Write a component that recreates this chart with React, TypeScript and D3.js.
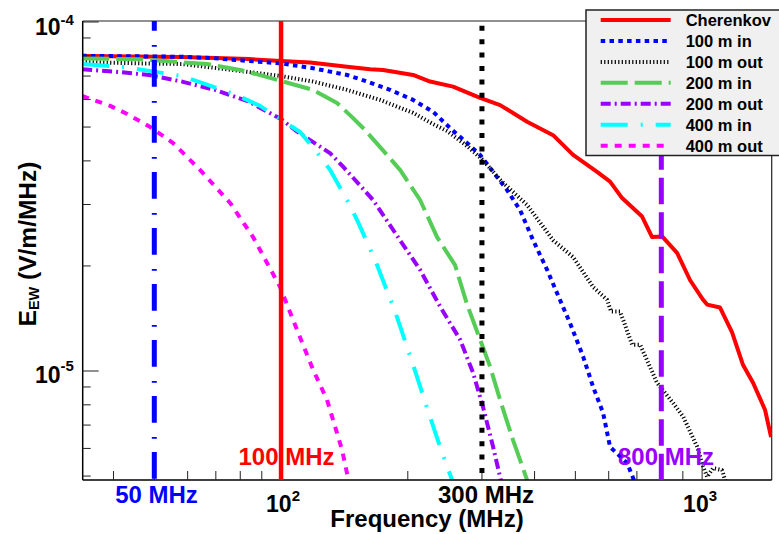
import React from 'react';
import * as d3 from 'd3';

const W = 779;
const H = 534;

// Frequency (MHz), E_EW (V/m/MHz)
const cherenkov: [number, number][] = [
  [34, 7.99e-5], [58.2, 7.94e-5], [83.9, 7.83e-5], [100, 7.73e-5], [117.2, 7.66e-5],
  [143.5, 7.44e-5], [162.7, 7.32e-5], [174.7, 7.29e-5], [205.9, 7.05e-5], [225.9, 6.75e-5],
  [256.2, 6.53e-5], [297, 6.06e-5], [331.3, 5.78e-5], [384, 5.18e-5], [442.7, 4.74e-5],
  [493.9, 4.16e-5], [563.1, 3.72e-5], [604.5, 3.49e-5], [645.7, 3.13e-5], [720.2, 2.77e-5],
  [760.6, 2.42e-5], [803.5, 2.43e-5], [872, 2.18e-5], [936.5, 1.82e-5], [1005.5, 1.6e-5],
  [1027.8, 1.55e-5], [1103, 1.52e-5], [1178, 1.29e-5], [1251, 1.04e-5], [1322, 0.924e-5],
  [1411, 0.773e-5], [1458, 0.647e-5],
];
const in100: [number, number][] = [
  [33.7, 8.0e-5], [58.2, 7.95e-5], [69.7, 7.87e-5], [83.9, 7.73e-5], [100, 7.61e-5],
  [119.1, 7.37e-5], [143.5, 7.05e-5], [160.1, 6.75e-5], [181.5, 6.39e-5], [205.9, 5.98e-5],
  [229.6, 5.53e-5], [252, 4.97e-5], [276.6, 4.5e-5], [297, 4.16e-5], [344.2, 3.3e-5],
  [369.6, 2.89e-5], [396.8, 2.37e-5], [428.4, 1.95e-5], [452.5, 1.67e-5], [485.8, 1.37e-5],
  [521.7, 1.1e-5], [551, 0.9e-5], [581.9, 0.758e-5], [604.5, 0.606e-5], [663.5, 0.545e-5],
  [685.6, 0.494e-5], [712.4, 0.441e-5],
];
const out100: [number, number][] = [
  [33.7, 7.68e-5], [46.75, 7.61e-5], [58.2, 7.58e-5], [76.5, 7.29e-5], [100, 7.0e-5],
  [119.1, 6.75e-5], [143.5, 6.39e-5], [171.9, 5.98e-5], [205.9, 5.49e-5], [229.6, 5.1e-5],
  [248, 4.87e-5], [276.6, 4.41e-5], [301.8, 4.02e-5], [331.3, 3.53e-5], [384, 2.99e-5],
  [442.7, 2.37e-5], [493.9, 2.12e-5], [551, 1.74e-5], [594.9, 1.6e-5], [607.8, 1.48e-5],
  [638.6, 1.48e-5], [681.9, 1.19e-5], [712.4, 1.19e-5], [781.8, 0.924e-5], [853.2, 0.81e-5],
  [901.5, 0.74e-5], [973, 0.607e-5], [1005.5, 0.532e-5], [1027.8, 0.497e-5], [1062, 0.527e-5],
  [1115, 0.52e-5], [1134, 0.487e-5], [1153, 0.45e-5],
];
const in200: [number, number][] = [
  [33.7, 7.86e-5], [46.0, 7.82e-5], [55.1, 7.7e-5], [66.7, 7.58e-5], [79.9, 7.29e-5],
  [90.1, 7.02e-5], [100, 6.78e-5], [119.1, 6.39e-5], [135.8, 5.86e-5], [145.8, 5.41e-5],
  [156.6, 4.97e-5], [171.9, 4.38e-5], [191.7, 3.77e-5], [213.9, 3.09e-5], [234.7, 2.42e-5],
  [259, 2.01e-5], [276.6, 1.55e-5], [297, 1.23e-5], [313.6, 1.03e-5], [331.3, 0.826e-5],
  [355.6, 0.634e-5], [384, 0.487e-5], [392.5, 0.45e-5],
];
const out200: [number, number][] = [
  [33.7, 7.32e-5], [40.3, 7.21e-5], [48.6, 7.05e-5], [58.2, 6.75e-5], [69.7, 6.39e-5],
  [83.9, 5.91e-5], [100, 5.27e-5], [109.2, 4.85e-5], [130.7, 4.21e-5], [140.4, 3.85e-5],
  [165.4, 3.09e-5], [191.7, 2.37e-5], [213.9, 1.95e-5], [238.6, 1.53e-5], [266.2, 1.23e-5],
  [285.8, 0.988e-5], [301.8, 0.788e-5], [318.9, 0.606e-5], [331.3, 0.497e-5], [336.8, 0.456e-5],
];
const in400: [number, number][] = [
  [33.7, 7.58e-5], [42.6, 7.43e-5], [58.2, 7.0e-5], [77.7, 6.2e-5], [89.1, 5.75e-5],
  [97.8, 5.34e-5], [110.9, 4.84e-5], [119.1, 4.38e-5], [130.7, 3.77e-5], [143.5, 3.09e-5],
  [151.5, 2.71e-5], [167.2, 2.08e-5], [186.6, 1.48e-5], [205.9, 1.04e-5], [227.1, 0.724e-5],
  [238.6, 0.606e-5], [254.8, 0.487e-5], [259, 0.456e-5],
];
const out400: [number, number][] = [
  [33.7, 6.14e-5], [39.3, 5.75e-5], [43.1, 5.45e-5], [48.9, 5.0e-5], [55.4, 4.5e-5],
  [64.2, 3.77e-5], [75.7, 3.03e-5], [85.8, 2.42e-5], [99.5, 1.74e-5], [109.2, 1.31e-5],
  [119.1, 1.01e-5], [128.6, 0.826e-5], [135.8, 0.664e-5], [139.6, 0.594e-5], [144.2, 0.494e-5],
  [145.8, 0.456e-5],
];

const seriesNames = ['Cherenkov', '100 m in', '100 m out', '200 m in', '200 m out', '400 m in', '400 m out'];
const seriesData = [cherenkov, in100, out100, in200, out200, in400, out400];

const markerFreqs = [50, 100, 300, 800];
const markerLabels = ['50 MHz', '100 MHz', '300 MHz', '800 MHz'];

const xMajorTicks = [100, 1000];
const xMinorTicks = [40, 50, 60, 70, 80, 90, 200, 300, 400, 500, 600, 700, 800, 900];
const yMajorTicks = [1e-5, 1e-4];
const yMinorTicks = [5e-6, 6e-6, 7e-6, 8e-6, 9e-6, 2e-5, 3e-5, 4e-5, 5e-5, 6e-5, 7e-5, 8e-5, 9e-5];

const seriesStyles = [
  { color: '#ff0000', width: 4, dash: '' },
  { color: '#0000ff', width: 4, dash: '4.5 4.3' },
  { color: '#000000', width: 4, dash: '1.2 2.3' },
  { color: '#55cc55', width: 4, dash: '27 7' },
  { color: '#9900ff', width: 4, dash: '10 4 2 4' },
  { color: '#00ffff', width: 4, dash: '27 13 2 13' },
  { color: '#ff00ff', width: 4, dash: '7 7' },
];

const markerStyles = [
  { color: '#0000ff', width: 5, dash: '26.7 14.3 1.7 13.3', offset: 17, labelX: 156.5, labelY: 503 },
  { color: '#ff0000', width: 4.5, dash: '', offset: 0, labelX: 286.5, labelY: 465 },
  { color: '#000000', width: 5, dash: '5 8.4', offset: 8.6, labelX: 486, labelY: 503 },
  { color: '#9900ff', width: 5, dash: '26.5 8', offset: 15.7, labelX: 666, labelY: 465 },
];

const FONT = '"Liberation Sans", Arial, Helvetica, sans-serif';

const L = 82.7, R = 771.7, T = 21, B = 480;

export default function App() {
  const x = d3.scaleLog().domain([33.8, 1463]).range([L, R]);
  const y = d3.scaleLog().domain([4.872e-6, 1.0066e-4]).range([B, T]);
  const line = d3.line<[number, number]>().x(d => x(d[0])).y(d => y(d[1]));

  const legX0 = 600.7, legX1 = 670.7, legTextX = 685.7, legY0 = 20, legDy = 20.95;

  return (
    <svg width={W} height={H} style={{ position: 'absolute', left: 0, top: 0, background: '#fff' }}
      fontFamily={FONT} fontWeight="bold">
      <defs>
        <clipPath id="plotClip">
          <rect x={L} y={T} width={R - L} height={B - T} />
        </clipPath>
      </defs>
      <rect x={0} y={0} width={W} height={H} fill="#fff" />

      {/* frame */}
      <line x1={L} x2={R} y1={T} y2={T} stroke="#222" strokeWidth={1.2} />
      <line x1={R} x2={R} y1={T} y2={B} stroke="#222" strokeWidth={1.2} />

      {/* curves */}
      <g clipPath="url(#plotClip)">
        {seriesData.map((d, i) => (
          <path key={i} d={line(d) || ''} fill="none" stroke={seriesStyles[i].color}
            strokeWidth={seriesStyles[i].width} strokeDasharray={seriesStyles[i].dash || undefined}
            strokeLinejoin="round" />
        ))}
      </g>

      {/* axes */}
      <line x1={L} x2={L} y1={T} y2={B} stroke="#000" strokeWidth={1.5} />
      <line x1={L} x2={R} y1={B} y2={B} stroke="#000" strokeWidth={1.5} />
      {yMajorTicks.map(t => (
        <line key={'ym' + t} x1={L} x2={L + 16} y1={y(t)} y2={y(t)} stroke="#222" strokeWidth={1} />
      ))}
      {yMinorTicks.map(t => (
        <line key={'yn' + t} x1={L} x2={L + 8} y1={y(t)} y2={y(t)} stroke="#222" strokeWidth={1} />
      ))}
      {xMajorTicks.map(t => (
        <line key={'xm' + t} x1={x(t)} x2={x(t)} y1={B} y2={B - 18} stroke="#222" strokeWidth={1} />
      ))}
      {xMinorTicks.map(t => (
        <line key={'xn' + t} x1={x(t)} x2={x(t)} y1={B} y2={B - 9} stroke="#222" strokeWidth={1} />
      ))}

      {/* vertical frequency markers */}
      {markerFreqs.map((f, i) => (
        <line key={'mk' + f} x1={x(f)} x2={x(f)} y1={T} y2={B} stroke={markerStyles[i].color}
          strokeWidth={markerStyles[i].width} strokeDasharray={markerStyles[i].dash || undefined}
          strokeDashoffset={markerStyles[i].offset} />
      ))}
      {markerFreqs.map((f, i) => (
        <text key={'ml' + f} x={markerStyles[i].labelX} y={markerStyles[i].labelY} fontSize={24}
          textAnchor="middle" fill={markerStyles[i].color}>{markerLabels[i]}</text>
      ))}

      {/* tick labels */}
      <text x={x(100) - 15} y={512} fontSize={23} fill="#000">10<tspan fontSize={15} dy={-11}>2</tspan></text>
      <text x={x(1000) - 19} y={512} fontSize={23} fill="#000">10<tspan fontSize={15} dy={-11}>3</tspan></text>
      <text x={35} y={y(1e-4) + 13} fontSize={23} fill="#000">10<tspan fontSize={15} dy={-10}>-4</tspan></text>
      <text x={35} y={y(1e-5) + 12} fontSize={23} fill="#000">10<tspan fontSize={15} dy={-12}>-5</tspan></text>

      {/* axis titles */}
      <text x={427} y={527} fontSize={24} textAnchor="middle" fill="#000">Frequency (MHz)</text>
      <text transform="translate(36,244) rotate(-90)" fontSize={24.5} textAnchor="middle" fill="#000">
        E<tspan fontSize={14.5} dy={3}>EW</tspan><tspan fontSize={24.5} dy={-3}> (V/m/MHz)</tspan>
      </text>

      {/* legend */}
      <rect x={586} y={10} width={200} height={145.5} fill="#f0f0f0" stroke="#222" strokeWidth={1.5} />
      {seriesNames.map((n, i) => (
        <g key={'lg' + n}>
          <line x1={legX0} x2={legX1} y1={legY0 + i * legDy} y2={legY0 + i * legDy}
            stroke={seriesStyles[i].color} strokeWidth={seriesStyles[i].width}
            strokeDasharray={seriesStyles[i].dash || undefined} />
          <text x={legTextX} y={legY0 + i * legDy + 6} fontSize={16.5} fill="#000">{n}</text>
        </g>
      ))}
    </svg>
  );
}
